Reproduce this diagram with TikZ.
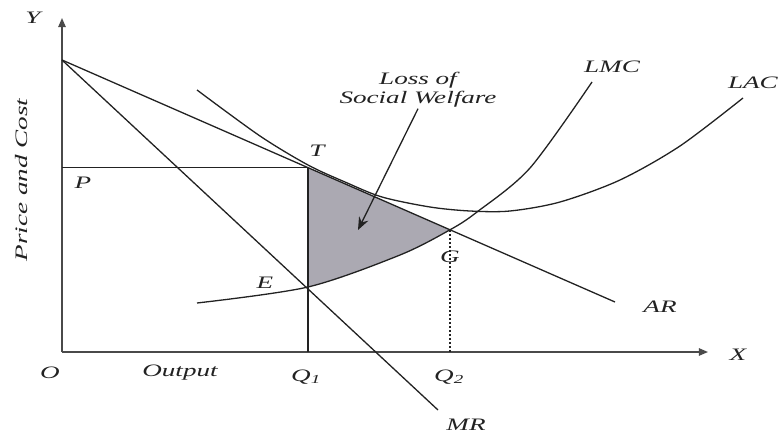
\documentclass[tikz,border=0pt]{standalone}
\usepackage{fontspec}
\usepackage{xcolor}
\usepackage{tikz}
\usetikzlibrary{positioning, arrows.meta, calc}
\newfontfamily\lblfont{Liberation Serif}[FakeStretch=1.55]
\definecolor{ink}{HTML}{222222}
\definecolor{axisgrey}{HTML}{4A4A4A}
\definecolor{losstint}{HTML}{ABA9B2}
\tikzset{
  curve/.style={draw=ink, line width=1.3pt},
  axis/.style={draw=axisgrey, line width=1.5pt, -{Triangle[length=3.2mm, width=2.6mm]}},
  guide/.style={draw=ink, line width=1.2pt},
  dashguide/.style={draw=ink, line width=1.2pt, dashed, dash pattern=on 2.5pt off 1.5pt},
  pointer/.style={draw=ink, line width=1.3pt, -{Stealth[length=4.5mm, width=3.6mm]}},
  lbl/.style={font=\lblfont\itshape\fontsize{17.5}{19}\selectfont, text=ink, inner sep=1pt},
}

\begin{document}
\begin{tikzpicture}[x=1pt, y=-1pt]
  \useasboundingbox (0,0) rectangle (780,434);

  % Key points (pixel grid of the reference)
  \coordinate (O) at (62,352);
  \coordinate (Ytip) at (62,18);
  \coordinate (Xtip) at (708,352);
  \coordinate (A) at (62,60);
  \coordinate (T) at (308,167.6);
  \coordinate (E) at (308,287);
  \coordinate (G) at (450,229.8);
  \coordinate (Pt) at (62,167.6);
  \coordinate (Q1) at (308,352);
  \coordinate (Q2) at (450,352);
  \coordinate (ARend) at (615,302);
  \coordinate (MRend) at (438,410);

  % Shaded loss area: below AR, right of TQ1, above LMC
  \begin{scope}
    \clip (T) -- (ARend) -- (615,420) -- (308,420) -- cycle;
    \fill[losstint] plot[smooth] coordinates {(197,303) (308,287) (400,255) (450,229.8) (477,212) (530,168) (592,82)}
      -- (592,0) -- (197,0) -- cycle;
  \end{scope}

  % Axes
  \draw[axis] (O) -- (Ytip);
  \draw[axis] (O) -- (Xtip);

  % Revenue lines
  \draw[curve] (A) -- (ARend);
  \draw[curve] (A) -- (MRend);

  % Cost curves
  \draw[curve] plot[smooth] coordinates {(197,303) (308,287) (400,255) (450,229.8) (477,212) (530,168) (592,82)};
  \draw[curve] plot[smooth] coordinates {(197,90) (260,136) (308,165) (345,182) (382,197) (430,207) (470,211) (510,211) (560,202) (620,180) (680,146) (743,98)};

  % Price line and output guides
  \draw[guide] (Pt) -- (T);
  \draw[guide] (T) -- (Q1);
  \draw[dashguide] (G) -- (Q2);

  % Labels
  \node[lbl] (ylab) at (33,18) {Y};
  \node[lbl] (xlab) at (738,355) {X};
  \node[lbl] (olab) at (50,373) {O};
  \node[lbl] (outlab) at (180,373) {Output};
  \node[lbl, rotate=90] (pclab) at (22,180) {Price and Cost};
  \node[lbl] (plab) at (83,183) {P};
  \node[lbl] (tlab) at (317,151) {T};
  \node[lbl] (elab) at (265,283) {E};
  \node[lbl] (glab) at (450,257) {G};
  \node[lbl] (q1lab) at (306,377) {Q\textsubscript{1}};
  \node[lbl] (q2lab) at (449,377) {Q\textsubscript{2}};
  \node[lbl] (arlab) at (660,307) {AR};
  \node[lbl] (mrlab) at (466,425) {MR};
  \node[lbl] (lmclab) at (612,67) {LMC};
  \node[lbl, anchor=east] (laclab) at (779,83) {LAC};
  \node[lbl, align=center] (losslab) at (418,90) {Loss of\\Social Welfare};

  % Pointer into the loss area
  \coordinate (losstip) at (358,230);
  \draw[pointer] (losslab.south) -- (losstip);
\end{tikzpicture}
\end{document}
